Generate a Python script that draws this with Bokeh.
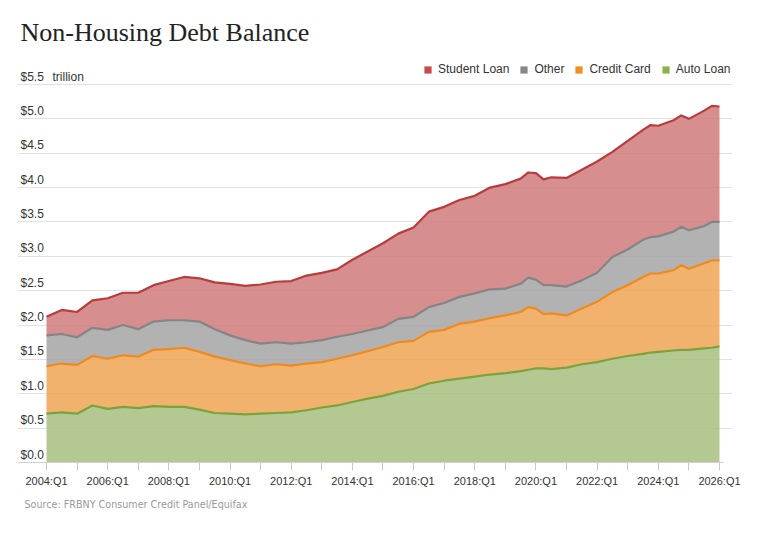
from bokeh.plotting import figure
from bokeh.models import (ColumnDataSource, Legend, LegendItem, FixedTicker,
                          Title, Range1d, Grid)
from bokeh.core.properties import value
from bokeh.embed import file_html
from bokeh.resources import INLINE

# ---------------- data (trillions of dollars) ----------------
quarters = ["2004Q1", "2004Q3", "2005Q1", "2005Q3", "2006Q1", "2006Q3", "2007Q1", "2007Q3",
            "2008Q1", "2008Q3", "2009Q1", "2009Q3", "2010Q1", "2010Q3", "2011Q1", "2011Q3",
            "2012Q1", "2012Q3", "2013Q1", "2013Q3", "2014Q1", "2014Q3", "2015Q1", "2015Q3",
            "2016Q1", "2016Q3", "2017Q1", "2017Q3", "2018Q1", "2018Q3", "2019Q1", "2019Q3",
            "2019Q4", "2020Q1", "2020Q2", "2020Q3", "2021Q1", "2021Q3", "2022Q1", "2022Q3",
            "2023Q1", "2023Q3", "2023Q4", "2024Q1", "2024Q3", "2024Q4", "2025Q1", "2025Q3",
            "2025Q4", "2026Q1"]

auto_loan = [0.71, 0.73, 0.71, 0.83, 0.78, 0.81, 0.79, 0.82, 0.81, 0.81,
             0.77, 0.72, 0.71, 0.70, 0.71, 0.72, 0.73, 0.76, 0.80, 0.83,
             0.88, 0.93, 0.97, 1.03, 1.07, 1.15, 1.19, 1.22, 1.25, 1.28,
             1.30, 1.33, 1.35, 1.37, 1.37, 1.36, 1.38, 1.43, 1.46, 1.51,
             1.55, 1.58, 1.60, 1.61, 1.63, 1.64, 1.64, 1.66, 1.67, 1.69]

credit_card = [0.69, 0.71, 0.71, 0.72, 0.73, 0.75, 0.75, 0.82, 0.84, 0.86,
               0.84, 0.82, 0.78, 0.74, 0.69, 0.71, 0.68, 0.68, 0.66, 0.68,
               0.68, 0.69, 0.71, 0.72, 0.70, 0.75, 0.74, 0.80, 0.80, 0.82,
               0.84, 0.86, 0.91, 0.87, 0.79, 0.81, 0.76, 0.81, 0.88, 0.97,
               1.03, 1.12, 1.15, 1.14, 1.17, 1.23, 1.18, 1.24, 1.27, 1.25]

other = [0.45, 0.43, 0.40, 0.41, 0.42, 0.44, 0.40, 0.41, 0.42, 0.40,
         0.44, 0.40, 0.36, 0.34, 0.33, 0.32, 0.32, 0.31, 0.32, 0.32,
         0.31, 0.30, 0.29, 0.34, 0.35, 0.36, 0.39, 0.39, 0.41, 0.42,
         0.39, 0.41, 0.43, 0.42, 0.42, 0.41, 0.42, 0.41, 0.42, 0.51,
         0.52, 0.54, 0.53, 0.54, 0.56, 0.56, 0.56, 0.54, 0.56, 0.56]

student_loan = [0.27, 0.35, 0.37, 0.40, 0.46, 0.47, 0.53, 0.53, 0.57, 0.63,
                0.63, 0.68, 0.75, 0.79, 0.86, 0.88, 0.91, 0.97, 0.98, 0.98,
                1.08, 1.15, 1.22, 1.24, 1.30, 1.39, 1.40, 1.41, 1.42, 1.48,
                1.52, 1.53, 1.53, 1.55, 1.54, 1.57, 1.58, 1.61, 1.62, 1.53,
                1.58, 1.60, 1.63, 1.61, 1.62, 1.62, 1.62, 1.68, 1.69, 1.68]

series_names = ["Student Loan", "Other", "Credit Card", "Auto Loan"]

y_ticks = [0.0, 0.5, 1.0, 1.5, 2.0, 2.5, 3.0, 3.5, 4.0, 4.5, 5.0, 5.5]
y_tick_labels = ["$0.0", "$0.5", "$1.0", "$1.5", "$2.0", "$2.5", "$3.0",
                 "$3.5", "$4.0", "$4.5", "$5.0", "$5.5"]
x_ticks = list(range(2004, 2027))
x_tick_labels = {t: (f"{t}:Q1" if t % 2 == 0 else "") for t in x_ticks}

# ---------------- styling ----------------
area_colors = {"Auto Loan": "#a7bf7e", "Credit Card": "#eea555",
               "Other": "#a5a5a5", "Student Loan": "#cf7a7a"}
line_colors = {"Auto Loan": "#7aa23e", "Credit Card": "#f08a1c",
               "Other": "#858585", "Student Loan": "#b83c3c"}
swatch_colors = {"Auto Loan": "#8cb04a", "Credit Card": "#f08f1e",
                 "Other": "#888888", "Student Loan": "#c84b4b"}

x = [int(q[:4]) + (int(q[5]) - 1) / 4 for q in quarters]
c1 = list(auto_loan)
c2 = [a + b for a, b in zip(c1, credit_card)]
c3 = [a + b for a, b in zip(c2, other)]
c4 = [a + b for a, b in zip(c3, student_loan)]
src = ColumnDataSource(dict(x=x, zero=[0.0] * len(x), c1=c1, c2=c2, c3=c3, c4=c4))

PX_PER_YEAR = 30.59
FRAME_W = 715
X0 = 2004 - 29 / PX_PER_YEAR
X1 = X0 + FRAME_W / PX_PER_YEAR
X_GRID_END = 2026 + 4 / PX_PER_YEAR

p = figure(width=766, height=538, x_range=Range1d(X0, X1), y_range=Range1d(0, 5.922),
           output_backend="svg", toolbar_location=None, y_axis_location=None,
           min_border_left=17, min_border_right=766 - 17 - FRAME_W,
           min_border_top=55, min_border_bottom=76)
p.outline_line_color = None
p.xgrid.grid_line_color = None
p.background_fill_color = "white"

grid = Grid(dimension=1, ticker=FixedTicker(ticks=y_ticks), bounds=(X0, X_GRID_END),
            grid_line_color="#e2e2e2", grid_line_width=1)
p.add_layout(grid)

layers = [("Auto Loan", "zero", "c1"), ("Credit Card", "c1", "c2"),
          ("Other", "c2", "c3"), ("Student Loan", "c3", "c4")]
for name, lo, hi in layers:
    p.varea(x="x", y1=lo, y2=hi, source=src, fill_color=area_colors[name], fill_alpha=0.85)
for name, lo, hi in layers:
    p.line(x="x", y=hi, source=src, line_color=line_colors[name], line_width=2.2,
           line_join="round")

# y tick labels sitting above the grid lines
p.text(x=[X0 + 3 / PX_PER_YEAR] * len(y_ticks), y=y_ticks, text=y_tick_labels,
       text_font=value("Liberation Sans"), text_font_size="12px", text_color="#333333",
       text_align="left", text_baseline="alphabetic", y_offset=-8)
p.text(x=[X0 + 35 / PX_PER_YEAR], y=[5.5], text=["trillion"],
       text_font=value("Liberation Sans"), text_font_size="12px", text_color="#333333",
       text_align="left", text_baseline="alphabetic", y_offset=-8)

# x axis
ax = p.xaxis[0]
ax.ticker = FixedTicker(ticks=x_ticks)
ax.bounds = (X0, X_GRID_END)
ax.major_label_overrides = x_tick_labels
ax.axis_line_color = "#cfcfcf"
ax.major_tick_line_color = "#c8c8c8"
ax.major_tick_out = 8
ax.major_tick_in = 0
ax.minor_tick_out = 0
ax.minor_tick_in = 0
ax.major_label_standoff = 4
ax.major_label_text_font = "Liberation Sans"
ax.major_label_text_font_size = "11px"
ax.major_label_text_color = "#333333"

# legend with solid swatches (proxy renderers that draw nothing in the plot)
nan = float("nan")
items = []
for name in series_names:
    r = p.quad(left=[nan], right=[nan], top=[nan], bottom=[nan],
               fill_color=swatch_colors[name], line_color=None)
    items.append(LegendItem(label=name, renderers=[r]))
legend = Legend(items=items, orientation="horizontal", location=(406, 386),
                glyph_width=9, glyph_height=9, label_height=12, label_standoff=6,
                spacing=10, padding=0, margin=0, border_line_color=None,
                background_fill_alpha=0, label_text_font="Liberation Sans",
                label_text_font_size="12px", label_text_color="#333333")
p.add_layout(legend)

# titles
p.title = Title(text="Non-Housing Debt Balance", text_font="Liberation Serif",
                text_font_size="26px", text_font_style="normal", text_color="#222222",
                align="left", offset=3, standoff=17)
p.add_layout(Title(text="Source: FRBNY Consumer Credit Panel/Equifax", text_font="DejaVu Sans",
                   text_font_size="9.6px", text_font_style="normal", text_color="#9a9a9a",
                   align="left", offset=7, standoff=14), "below")

open("out.html", "w").write(file_html(p, INLINE))
